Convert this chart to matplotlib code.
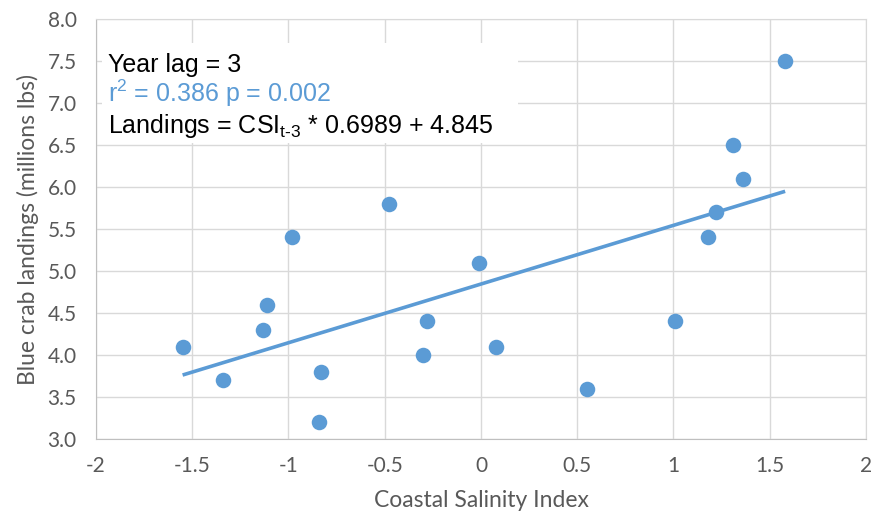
import matplotlib.pyplot as plt
from matplotlib.patches import Rectangle
import numpy as np

# Coastal Salinity Index (lagged 3 years) vs blue crab landings
csi = [1.58, 1.31, 1.36, 1.22, 1.18, 1.01, 0.55, 0.08, -0.01, -0.28,
       -0.30, -0.48, -0.83, -0.84, -0.98, -1.11, -1.13, -1.34, -1.55]
landings = [7.5, 6.5, 6.1, 5.7, 5.4, 4.4, 3.6, 4.1, 5.1, 4.4,
            4.0, 5.8, 3.8, 3.2, 5.4, 4.6, 4.3, 3.7, 4.1]
slope = 0.6989
intercept = 4.845

x_ticks = [-2, -1.5, -1, -0.5, 0, 0.5, 1, 1.5, 2]
x_tick_labels = ['-2', '-1.5', '-1', '-0.5', '0', '0.5', '1', '1.5', '2']
y_ticks = [3.0, 3.5, 4.0, 4.5, 5.0, 5.5, 6.0, 6.5, 7.0, 7.5, 8.0]

blue = '#5B9BD5'
grey_text = '#595959'
grid_col = '#D9D9D9'

plt.rcParams['mathtext.fontset'] = 'custom'
plt.rcParams['mathtext.rm'] = 'Liberation Sans'

fig = plt.figure(figsize=(8.75, 5.21), dpi=100)
ax = fig.add_axes([0.1097, 0.1574, 0.88, 0.806])

ax.scatter(csi, landings, s=125, color=blue, zorder=3, linewidths=0)

# trendline over the data range
xl = np.array([min(csi), max(csi)])
ax.plot(xl, slope * xl + intercept, color=blue, lw=2.6, zorder=2,
        solid_capstyle='butt')

ax.set_xlim(-2, 2)
ax.set_ylim(3, 8)
ax.set_xticks(x_ticks)
ax.set_xticklabels(x_tick_labels)
ax.set_yticks(y_ticks)
ax.set_yticklabels([f'{v:.1f}' for v in y_ticks])
ax.grid(True, color=grid_col, lw=1)
ax.set_axisbelow(True)
ax.tick_params(length=0, labelsize=15, labelcolor=grey_text)
ax.tick_params(axis='x', pad=12)
ax.tick_params(axis='y', pad=14)
for lab in ax.get_xticklabels() + ax.get_yticklabels():
    lab.set_family('Lato')
for s in ax.spines.values():
    s.set_color(grid_col)
ax.spines['left'].set_color('#BFBFBF')
ax.spines['bottom'].set_color('#BFBFBF')

ax.set_xlabel('Coastal Salinity Index', family='Lato', fontsize=16.5,
              color=grey_text, labelpad=10)
ax.set_ylabel('Blue crab landings (millions lbs)', family='Lato', fontsize=16.5,
              color=grey_text, labelpad=6)

# annotation box
ax.add_patch(Rectangle((0.0078, 0.705), 0.54, 0.238, transform=ax.transAxes,
                       facecolor='white', edgecolor='none', zorder=1.5))
kw = dict(transform=ax.transAxes, family='Liberation Sans', fontsize=18,
          va='baseline', ha='left', zorder=4)
ax.text(0.0156, 0.874, 'Year lag = 3', color='black', **kw)
ax.text(0.0156, 0.802, r'r$^{2}$ = 0.386 p = 0.002', color=blue, **kw)
ax.text(0.0156, 0.729, r'Landings = CSI$_{\text{t-3}}$ * 0.6989 + 4.845',
        color='black', **kw)

fig.savefig('out.png', dpi=100)
